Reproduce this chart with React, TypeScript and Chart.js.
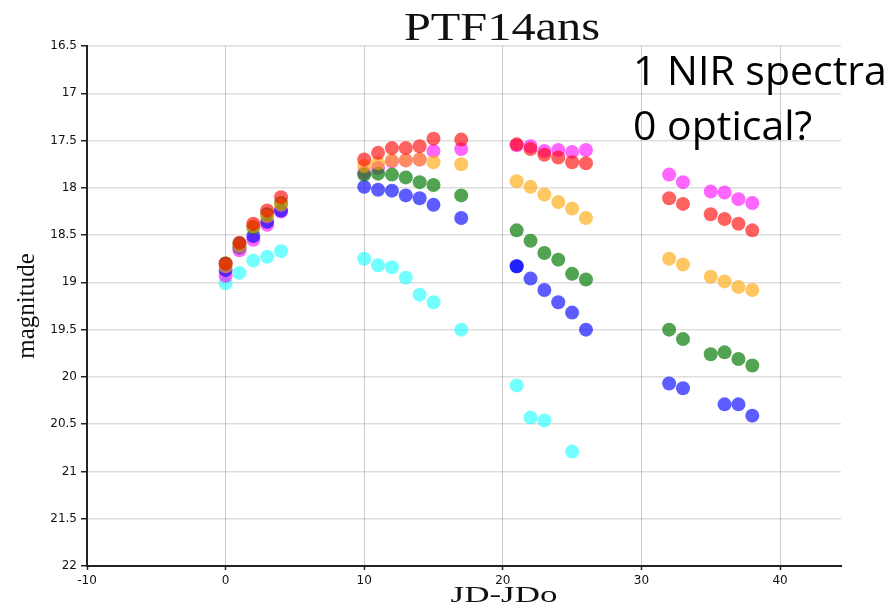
import React, { useEffect, useRef } from "react";
import { Chart, registerables } from "chart.js";

Chart.register(...registerables);

// ---- data (JD - JDo, magnitude) ----
const redDays = [0, 1, 2, 3, 4, 10, 11, 12, 13, 14, 15, 17, 21, 22, 23, 24, 25, 26, 32, 33, 35, 36, 37, 38];
const redMags = [18.80, 18.58, 18.38, 18.24, 18.10, 17.70, 17.63, 17.58, 17.58, 17.56, 17.48, 17.49, 17.54, 17.59, 17.65, 17.68, 17.73, 17.74, 18.11, 18.17, 18.28, 18.33, 18.38, 18.45];

const magentaDays = [0, 1, 2, 3, 4, 10, 11, 12, 13, 14, 15, 17, 21, 22, 23, 24, 25, 26, 32, 33, 35, 36, 37, 38];
const magentaMags = [18.93, 18.66, 18.55, 18.39, 18.25, 17.84, 17.79, 17.72, 17.71, 17.70, 17.61, 17.59, 17.55, 17.56, 17.61, 17.60, 17.62, 17.60, 17.86, 17.94, 18.04, 18.05, 18.12, 18.16];

const orangeDays = [0, 1, 2, 3, 4, 10, 11, 12, 13, 14, 15, 17, 21, 22, 23, 24, 25, 26, 32, 33, 35, 36, 37, 38];
const orangeMags = [18.83, 18.62, 18.41, 18.30, 18.18, 17.77, 17.74, 17.71, 17.71, 17.70, 17.73, 17.75, 17.93, 17.99, 18.07, 18.15, 18.22, 18.32, 18.75, 18.81, 18.94, 18.99, 19.05, 19.08];

const greenDays = [0, 1, 2, 3, 4, 10, 11, 12, 13, 14, 15, 17, 21, 22, 23, 24, 25, 26, 32, 33, 35, 36, 37, 38];
const greenMags = [18.80, 18.59, 18.42, 18.28, 18.16, 17.86, 17.85, 17.86, 17.89, 17.94, 17.97, 18.08, 18.45, 18.56, 18.69, 18.76, 18.91, 18.97, 19.50, 19.60, 19.76, 19.74, 19.81, 19.88];

const blueDays = [0, 1, 2, 3, 4, 10, 11, 12, 13, 14, 15, 17, 21, 21, 22, 23, 24, 25, 26, 32, 33, 36, 37, 38];
const blueMags = [18.87, 18.63, 18.51, 18.36, 18.24, 17.99, 18.02, 18.03, 18.08, 18.11, 18.18, 18.32, 18.83, 18.83, 18.96, 19.08, 19.21, 19.32, 19.50, 20.07, 20.12, 20.29, 20.29, 20.41];

const cyanDays = [0, 1, 2, 3, 4, 10, 11, 12, 13, 14, 15, 17, 21, 22, 23, 25];
const cyanMags = [19.01, 18.90, 18.77, 18.73, 18.67, 18.75, 18.82, 18.84, 18.95, 19.13, 19.21, 19.50, 20.09, 20.43, 20.46, 20.79];

const xTickValues = [-10, 0, 10, 20, 30, 40];

const titleText = "PTF14ans";
const xTitle = "JD-JDo";
const yTitle = "magnitude";
const noteLines = ["1 NIR spectra", "0 optical?"];

function pts(days: number[], mags: number[]) {
  return days.map((d, i) => ({ x: d, y: mags[i] }));
}

export default function App() {
  const ref = useRef<HTMLCanvasElement | null>(null);

  useEffect(() => {
    const canvas = ref.current;
    if (!canvas) return;
    const mk = (label: string, days: number[], mags: number[], color: string) => ({
      label,
      data: pts(days, mags),
      backgroundColor: color,
      borderWidth: 0,
      pointRadius: 7,
      pointHoverRadius: 7,
      showLine: false,
    });
    const chart = new Chart(canvas, {
      type: "scatter",
      data: {
        datasets: [
          mk("red", redDays, redMags, "rgba(255,0,0,0.62)"),
          mk("orange", orangeDays, orangeMags, "rgba(255,165,0,0.62)"),
          mk("green", greenDays, greenMags, "rgba(0,120,0,0.68)"),
          mk("blue", blueDays, blueMags, "rgba(0,0,255,0.64)"),
          mk("magenta", magentaDays, magentaMags, "rgba(255,0,255,0.6)"),
          mk("cyan", cyanDays, cyanMags, "rgba(0,255,255,0.55)"),
        ],
      },
      options: {
        responsive: false,
        animation: false,
        layout: { padding: { top: 46, right: 54, bottom: 0, left: 0 } },
        plugins: {
          legend: { display: false },
          tooltip: { enabled: false },
          title: { display: false },
        },
        scales: {
          x: {
            type: "linear",
            min: -10,
            max: 44.4,
            afterBuildTicks: (s: any) => {
              s.ticks = xTickValues.map((v) => ({ value: v }));
            },
            afterFit: (s: any) => {
              s.height = 46;
            },
            ticks: {
              font: { family: "DejaVu Sans", size: 12 },
              color: "#111",
              padding: 4,
              maxRotation: 0,
              callback: (v: any) => String(Number(v)),
            },
            grid: {
              color: "rgba(0,0,0,0.2)",
              lineWidth: 1,
              tickLength: 4,
              tickColor: "#222",
              tickWidth: 1.5,
            },
            border: { display: true, color: "#222", width: 2 },
          },
          y: {
            type: "linear",
            reverse: true,
            min: 16.5,
            max: 22,
            afterFit: (s: any) => {
              s.width = 87;
            },
            ticks: {
              stepSize: 0.5,
              font: { family: "DejaVu Sans", size: 12 },
              color: "#111",
              padding: 4,
              callback: (v: any) => String(Number(v)),
            },
            grid: {
              color: "rgba(0,0,0,0.13)",
              lineWidth: 1.5,
              tickLength: 6,
              tickColor: "#222",
              tickWidth: 1.5,
            },
            border: { display: true, color: "#222", width: 2 },
          },
        },
      },
    });
    return () => chart.destroy();
  }, []);

  return (
    <div style={{ position: "absolute", left: 0, top: 0, width: 895, height: 612, background: "#fff", overflow: "hidden" }}>
      <canvas ref={ref} width={895} height={612} style={{ position: "absolute", left: 0, top: 0, width: 895, height: 612 }} />
      <svg width={895} height={612} style={{ position: "absolute", left: 0, top: 0, pointerEvents: "none" }}>
        <text
          transform="translate(502,40) scale(1.21,1)"
          textAnchor="middle"
          fontFamily="'Liberation Serif', 'DejaVu Serif', serif"
          fontSize={40}
          fill="#111"
        >
          {titleText}
        </text>
        <text
          transform="translate(504,602) scale(1.52,1)"
          textAnchor="middle"
          fontFamily="'Liberation Serif', 'DejaVu Serif', serif"
          fontSize={23}
          fill="#111"
        >
          {xTitle}
        </text>
        <text
          transform="translate(34,306) rotate(-90)"
          textAnchor="middle"
          fontFamily="'Liberation Serif', 'DejaVu Serif', serif"
          fontSize={25}
          fill="#111"
        >
          {yTitle}
        </text>
        {noteLines.map((t, i) => (
          <text
            key={i}
            x={633}
            y={85 + i * 55}
            fontFamily="'Open Sans', 'Noto Sans', sans-serif"
            fontSize={41}
            fill="#000"
          >
            {t}
          </text>
        ))}
      </svg>
    </div>
  );
}
